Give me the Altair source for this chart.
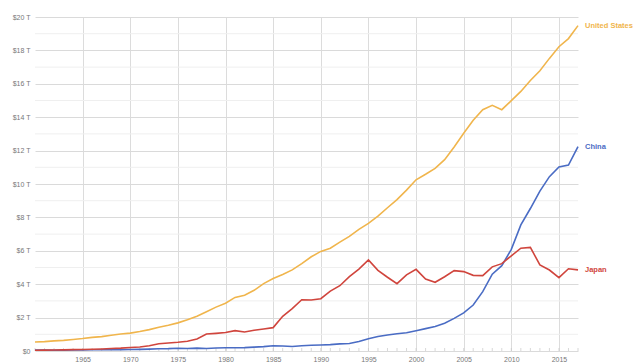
import altair as alt
import pandas as pd

# GDP in current US dollars, trillions, 1960-2017
years = list(range(1960, 2018))

united_states = [
    0.543, 0.563, 0.605, 0.638, 0.686, 0.744, 0.815, 0.862, 0.943, 1.020,
    1.073, 1.165, 1.280, 1.425, 1.545, 1.684, 1.873, 2.082, 2.352, 2.627,
    2.857, 3.207, 3.343, 3.634, 4.037, 4.339, 4.580, 4.855, 5.236, 5.642,
    5.963, 6.158, 6.520, 6.859, 7.287, 7.640, 8.073, 8.577, 9.063, 9.631,
    10.252, 10.582, 10.936, 11.458, 12.214, 13.037, 13.815, 14.452, 14.713, 14.449,
    14.992, 15.543, 16.197, 16.785, 17.522, 18.219, 18.707, 19.485,
]

china = [
    0.060, 0.050, 0.047, 0.051, 0.060, 0.070, 0.077, 0.073, 0.071, 0.080,
    0.093, 0.100, 0.114, 0.139, 0.144, 0.164, 0.154, 0.175, 0.150, 0.178,
    0.191, 0.196, 0.205, 0.230, 0.260, 0.310, 0.301, 0.273, 0.312, 0.348,
    0.361, 0.383, 0.427, 0.445, 0.564, 0.734, 0.864, 0.962, 1.029, 1.094,
    1.211, 1.339, 1.471, 1.660, 1.955, 2.286, 2.752, 3.552, 4.598, 5.110,
    6.087, 7.552, 8.532, 9.570, 10.439, 11.016, 11.138, 12.238,
]

japan = [
    0.044, 0.054, 0.061, 0.070, 0.082, 0.091, 0.106, 0.124, 0.147, 0.172,
    0.213, 0.240, 0.318, 0.432, 0.479, 0.522, 0.587, 0.722, 1.014, 1.055,
    1.105, 1.219, 1.135, 1.244, 1.319, 1.399, 2.079, 2.533, 3.072, 3.055,
    3.133, 3.584, 3.909, 4.455, 4.907, 5.449, 4.833, 4.415, 4.032, 4.563,
    4.888, 4.304, 4.115, 4.446, 4.815, 4.755, 4.530, 4.515, 5.038, 5.231,
    5.700, 6.158, 6.203, 5.156, 4.850, 4.390, 4.927, 4.860,
]

countries = ["United States", "China", "Japan"]
colors = ["#f0b54c", "#4a6cc4", "#d0453d"]

# axis tick positions
x_ticks = [1965, 1970, 1975, 1980, 1985, 1990, 1995, 2000, 2005, 2010, 2015]
y_major = [0, 2, 4, 6, 8, 10, 12, 14, 16, 18, 20]
y_minor = [1, 3, 5, 7, 9, 11, 13, 15, 17, 19]

rows = []
for name, series in zip(countries, [united_states, china, japan]):
    for yr, v in zip(years, series):
        rows.append({"year": yr, "gdp": v, "country": name})
df = pd.DataFrame(rows)

font = "Liberation Sans"
x_scale = alt.Scale(domain=[1960, 2017], nice=False, zero=False)
y_scale = alt.Scale(domain=[0, 20], nice=False)

x_axis = alt.Axis(
    values=x_ticks,
    format="d",
    labelOverlap=False,
    gridColor="#dcdcdc",
    ticks=False,
    domain=False,
    labelFontSize=7,
    labelColor="#777777",
    labelPadding=4,
    labelFont=font,
    title=None,
)

y_axis = alt.Axis(
    values=y_major,
    labelExpr="datum.value == 0 ? '$0' : '$' + datum.value + ' T'",
    labelOverlap=False,
    gridColor="#dadada",
    ticks=False,
    domain=False,
    labelFontSize=7,
    labelColor="#777777",
    labelPadding=5,
    labelFont=font,
    title=None,
)

# faint half-step gridlines
minor_grid = alt.Chart(pd.DataFrame({"v": y_minor})).mark_rule(
    color="#efefef", strokeWidth=1
).encode(y=alt.Y("v:Q", scale=y_scale, axis=y_axis))

# small yearly ticks along the baseline
year_ticks = alt.Chart(pd.DataFrame({"year": years, "base": [0] * len(years)})).mark_tick(
    color="#c8c8c8", orient="vertical", size=3, thickness=1, yOffset=-1.5
).encode(
    x=alt.X("year:Q", scale=x_scale, axis=x_axis),
    y=alt.Y("base:Q", scale=y_scale, axis=y_axis),
)

base = alt.Chart(df)
color_scale = alt.Scale(domain=countries, range=colors)

lines = base.mark_line(strokeWidth=1.6).encode(
    x=alt.X("year:Q", scale=x_scale, axis=x_axis),
    y=alt.Y("gdp:Q", scale=y_scale, axis=y_axis),
    color=alt.Color("country:N", scale=color_scale, legend=None),
)

labels = base.transform_filter("datum.year == 2017").mark_text(
    align="left", baseline="middle", dx=7, fontSize=7.5, fontWeight="bold", font=font
).encode(
    x=alt.X("year:Q", scale=x_scale, axis=x_axis),
    y=alt.Y("gdp:Q", scale=y_scale, axis=y_axis),
    text="country:N",
    color=alt.Color("country:N", scale=color_scale, legend=None),
)

chart = (
    alt.layer(minor_grid, year_ticks, lines, labels)
    .properties(
        width=543,
        height=334,
        autosize=alt.AutoSizeParams(type="none"),
        padding={"left": 35, "top": 17, "right": 55, "bottom": 12},
        background="white",
    )
    .configure_view(stroke=None)
)

chart.save("out.html", embed_options={"renderer": "svg", "actions": False})
